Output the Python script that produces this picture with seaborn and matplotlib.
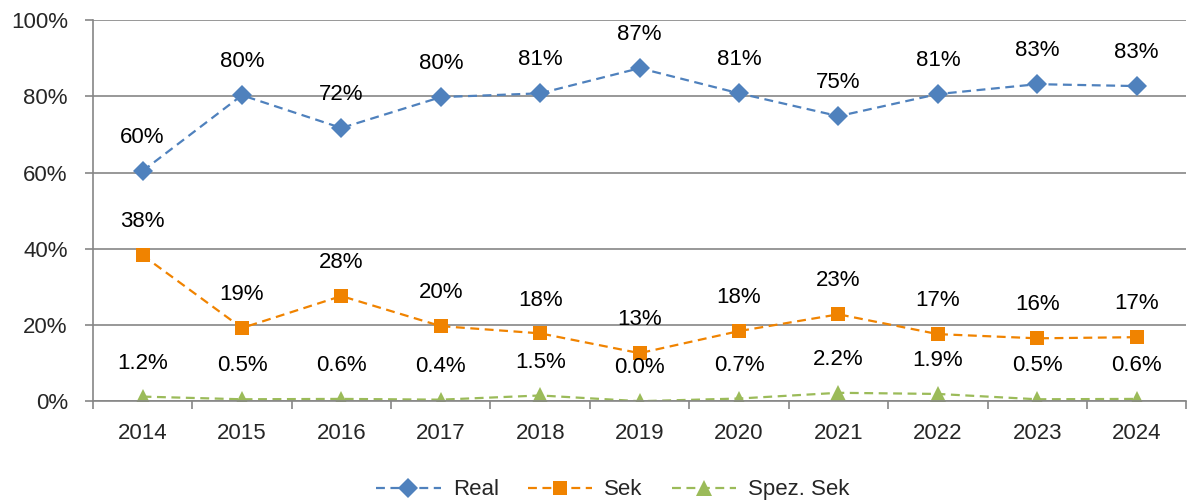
import pandas as pd
import seaborn as sns
import matplotlib.pyplot as plt
from matplotlib.lines import Line2D
from matplotlib.ticker import FixedLocator

# Data (fractions)
years = ['2014', '2015', '2016', '2017', '2018', '2019', '2020', '2021', '2022', '2023', '2024']
real = [0.604, 0.803, 0.717, 0.798, 0.808, 0.874, 0.808, 0.748, 0.806, 0.832, 0.827]
sek = [0.383, 0.192, 0.276, 0.197, 0.178, 0.126, 0.184, 0.228, 0.176, 0.165, 0.168]
spez = [0.012, 0.005, 0.006, 0.004, 0.015, 0.000, 0.007, 0.022, 0.019, 0.005, 0.006]
real_labels = ['60%', '80%', '72%', '80%', '81%', '87%', '81%', '75%', '81%', '83%', '83%']
sek_labels = ['38%', '19%', '28%', '20%', '18%', '13%', '18%', '23%', '17%', '16%', '17%']
spez_labels = ['1.2%', '0.5%', '0.6%', '0.4%', '1.5%', '0.0%', '0.7%', '2.2%', '1.9%', '0.5%', '0.6%']

series = ['Real', 'Sek', 'Spez. Sek']
colors = {'Real': '#4F81BD', 'Sek': '#F08300', 'Spez. Sek': '#9BBB59'}
markers = {'Real': 'D', 'Sek': 's', 'Spez. Sek': '^'}
msizes = {'Real': 10, 'Sek': 10, 'Spez. Sek': 12}

sns.set_style('white')
plt.rcParams['font.family'] = ['Liberation Sans', 'DejaVu Sans']
FS = 16

df = pd.DataFrame({
    'pos': list(range(len(years))) * 3,
    'value': real + sek + spez,
    'series': [s for s in series for _ in years],
})

fig, ax = plt.subplots(figsize=(11.9, 5.04), dpi=100)
fig.subplots_adjust(left=0.078, right=0.997, top=0.960, bottom=0.204)

sns.lineplot(data=df, x='pos', y='value', hue='series', style='series',
             palette=colors, markers=markers, dashes={s: (4, 2.5) for s in series},
             linewidth=1.6, markersize=10, markeredgewidth=0, legend=False, ax=ax)
for line, s in zip(ax.get_lines(), series):
    line.set_markersize(msizes[s])

# Data labels
for vals, labs in [(real, real_labels), (sek, sek_labels), (spez, spez_labels)]:
    for i, (v, lab) in enumerate(zip(vals, labs)):
        ax.annotate(lab, (i, v), xytext=(0, 24), textcoords='offset points',
                    ha='center', va='center', fontsize=FS, color='black')

ax.set_xlim(-0.5, len(years) - 0.5)
ax.set_ylim(0, 1.0)
ax.set_yticks([0, 0.2, 0.4, 0.6, 0.8, 1.0])
ax.set_yticklabels(['0%', '20%', '40%', '60%', '80%', '100%'], fontsize=FS)
ax.set_xticks(range(len(years)))
ax.set_xticklabels(years, fontsize=FS)
ax.xaxis.set_minor_locator(FixedLocator([i - 0.5 for i in range(len(years) + 1)]))
ax.tick_params(axis='x', which='major', length=0, pad=16)
ax.tick_params(axis='x', which='minor', length=6, width=1.2, color='#868686', bottom=True)
ax.tick_params(axis='y', length=6, width=1.2, color='#868686', pad=12, left=True)
ax.set_xlabel('')
ax.set_ylabel('')

ax.grid(axis='y', color='#868686', linewidth=1.2)
ax.set_axisbelow(True)
for side in ['top', 'right']:
    ax.spines[side].set_visible(False)
for side in ['left', 'bottom']:
    ax.spines[side].set_color('#868686')
    ax.spines[side].set_linewidth(1.2)

handles = [Line2D([], [], color=colors[s], marker=markers[s], markersize=msizes[s],
                  markeredgewidth=0, linestyle=(0, (4, 2.5)), linewidth=1.6) for s in series]
fig.legend(handles, series, loc='center', bbox_to_anchor=(0.515, 0.028), ncol=3,
           frameon=False, fontsize=FS, handlelength=2.9, columnspacing=1.3, handletextpad=0.55)

fig.savefig('out.png', dpi=100)
